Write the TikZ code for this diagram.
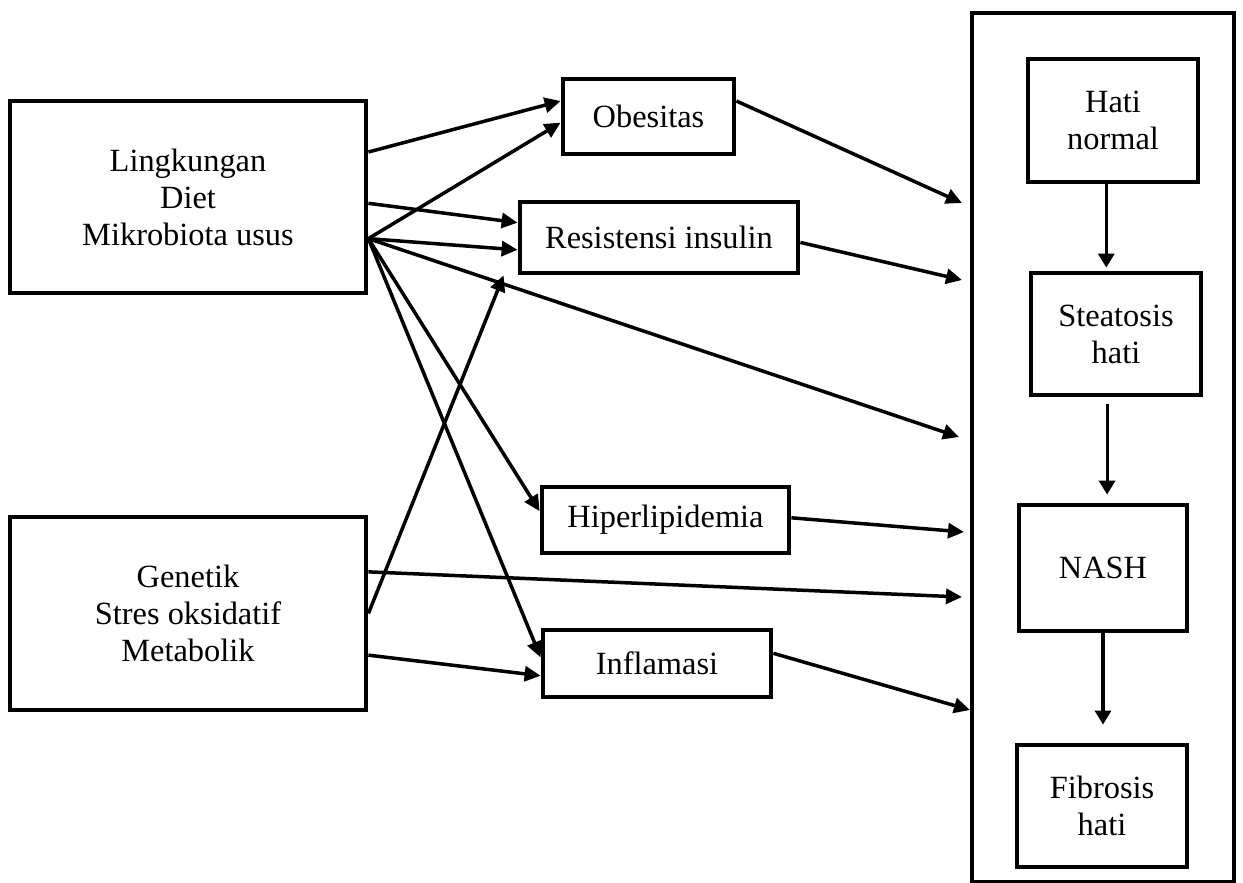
\documentclass[tikz,border=0pt]{standalone}
\usepackage{fontspec}
\setmainfont{Liberation Serif}
\usetikzlibrary{arrows.meta,calc}

\tikzset{
    kotak/.style={draw, line width=2.4pt, align=center, inner sep=0pt,
        font=\fontsize{16.2}{18.5}\selectfont},
    panah/.style={line width=1.75pt, -{Triangle[length=8pt,width=7.5pt]}},
    turun/.style={line width=1.6pt, -{Triangle[length=7pt,width=8pt]}}
}

\begin{document}
\begin{tikzpicture}[x=0.5pt, y=-0.5pt]
    \useasboundingbox (0,0) rectangle (1243,883);

    % Faktor risiko
    \node[kotak, minimum width=178pt, minimum height=96pt] (lingk) at (188,197) {Lingkungan\\Diet\\Mikrobiota usus};
    \node[kotak, minimum width=178pt, minimum height=96.5pt] (gen) at (188,613.5) {Genetik\\Stres oksidatif\\Metabolik};

    % Kondisi perantara
    \node[kotak, minimum width=85.5pt, minimum height=37.5pt] (ob) at (648.5,116.5) {Obesitas};
    \node[kotak, minimum width=139pt, minimum height=35.5pt] (res) at (659,237.5) {Resistensi insulin};
    \node[kotak, minimum width=123.5pt, minimum height=33pt] (hip) at (665.5,520) {Hiperlipidemia};
    \node[kotak, minimum width=114pt, minimum height=33.5pt] (inf) at (657,663.5) {Inflamasi};

    % Perkembangan penyakit hati
    \node[draw, line width=2.1pt, minimum width=131pt, minimum height=434.5pt] (hepar) at (1103,447.5) {};
    \node[kotak, minimum width=85pt, minimum height=61.5pt] (hati) at (1113,120.5) {Hati\\normal};
    \node[kotak, minimum width=85pt, minimum height=61pt] (steat) at (1116,334) {Steatosis\\hati};
    \node[kotak, minimum width=84pt, minimum height=63pt] (nash) at (1103,568) {NASH};
    \node[kotak, minimum width=85pt, minimum height=61pt] (fib) at (1102,806) {Fibrosis\\hati};

    % Ujung panah di tepi kotak hati
    \coordinate (t1) at (962,203);
    \coordinate (t2) at (962,280);
    \coordinate (t3) at (959,437);
    \coordinate (t4) at (964,532);
    \coordinate (t5) at (962,597);
    \coordinate (t6) at (970,710);

    % Panah dari faktor risiko
    \draw[panah] (lingk.14) -- (ob.170);
    \draw[panah] (lingk.-13) -- (ob.184);
    \draw[panah] (lingk.-2) -- (res.174);
    \draw[panah] (lingk.-13) -- (res.185);
    \draw[panah] (lingk.-13) -- (t3);
    \draw[panah] (lingk.-13) -- (hip.176);
    \draw[panah] (lingk.-13) -- (inf.177);
    \draw[panah] (gen.east) -- ($(res.south west)+(-14,0)$);
    \draw[panah] (gen.13) -- (t5);
    \draw[panah] (gen.-13) -- (inf.186);

    % Panah ke kotak hati
    \draw[panah] (ob.10) -- (t1);
    \draw[panah] (res.-2) -- (t2);
    \draw[panah] (hip.1) -- (t4);
    \draw[panah] (inf.5) -- (t6);

    % Tahapan
    \draw[turun, shorten >=1.5pt] (hati.-96) -- (hati.-96 |- steat.north);
    \draw[turun, shorten <=3.5pt, shorten >=4pt] (steat.-98) -- (steat.-98 |- nash.north);
    \draw[turun, shorten >=9pt] (nash.south) -- (nash.south |- fib.north);
\end{tikzpicture}
\end{document}
